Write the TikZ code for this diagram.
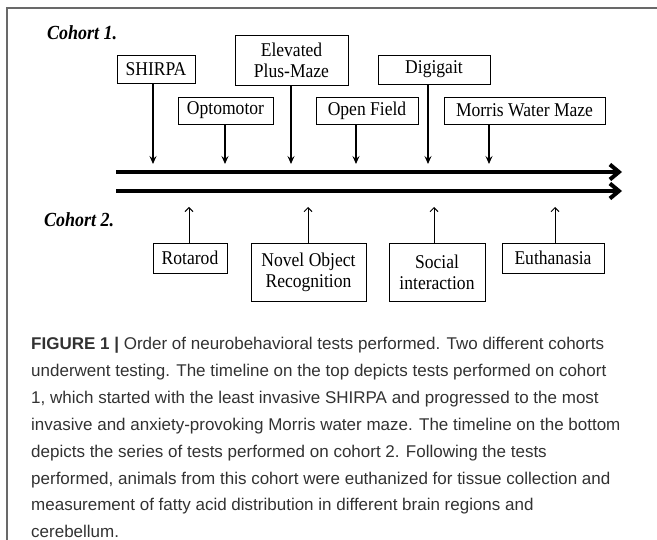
\documentclass[tikz,border=0pt]{standalone}
\usepackage{fontspec}
\setmainfont{Liberation Serif}
\newfontfamily\boxfont[FakeStretch=0.9]{Liberation Serif}
\newfontfamily\capfont{Liberation Sans}
\usetikzlibrary{arrows.meta}
\definecolor{capgray}{RGB}{50,50,50}
\definecolor{framegray}{RGB}{105,105,105}
\tikzset{
    test/.style={draw, line width=0.8pt, align=center, inner sep=0pt, minimum height=28, font=\boxfont\fontsize{19.5}{21}\selectfont}, % boxes of the tests
    cohort/.style={anchor=west, inner sep=0pt, font=\boxfont\fontsize{20}{22}\selectfont\bfseries\itshape},
    down/.style={line width=1.2pt, -{Stealth[length=8pt, width=7pt, inset=3pt]}},
    up/.style={line width=1pt, -{Straight Barb[length=4pt, width=8pt]}},
    timeline/.style={line width=4pt, -{Straight Barb[length=9pt, width=15pt]}}
}

\begin{document}
\begin{tikzpicture}[x=1pt, y=-1pt]
    \useasboundingbox (0,0) rectangle (657,540);
    \draw[framegray, line width=1.5pt] (657,8) -- (7,8) -- (7,540);

    \node[cohort] (coh1) at (47,33) {Cohort 1.};
    \node[cohort] (coh2) at (44,220) {Cohort 2.};

    % the two timelines
    \coordinate (start1) at (116,172); \coordinate (end1) at (622,172);
    \coordinate (start2) at (116,191); \coordinate (end2) at (622,191);
    \draw[timeline] (start1) -- (end1);
    \draw[timeline] (start2) -- (end2);

    % cohort 1
    \node[test, minimum width=78] (shirpa) at (156,69) {SHIRPA};
    \node[test, minimum width=95, minimum height=27] (opto) at (225.5,110.5) {Optomotor};
    \node[test, minimum width=113, minimum height=50] (epm) at (291.5,60) {Elevated\\Plus-Maze};
    \node[test, minimum width=102, minimum height=27] (field) at (367,110.5) {Open Field};
    \node[test, minimum width=112, minimum height=29] (digi) at (434,69.5) {Digigait};
    \node[test, minimum width=161, minimum height=27] (mwm) at (524.5,110.5) {Morris Water Maze};
    \foreach \n/\x in {shirpa/153, opto/225, epm/291, field/356, digi/428, mwm/489} {
        \coordinate (tip\n) at (\x,164);
        \draw[down] (\n.south -| tip\n) -- (tip\n);
    }

    % cohort 2
    \node[test, minimum width=74, minimum height=30] (rota) at (190,258) {Rotarod};
    \node[test, minimum width=115, minimum height=58] (novel) at (308.5,272) {Novel Object\\Recognition};
    \node[test, minimum width=96, minimum height=58] (social) at (437,272) {Social\\interaction};
    \node[test, minimum width=102, minimum height=30] (euth) at (553,258) {Euthanasia};
    \foreach \n/\x in {rota/189, novel/308, social/434, euth/555} {
        \coordinate (tip\n) at (\x,207);
        \draw[up] (\n.north -| tip\n) -- (tip\n);
    }

    \node[anchor=north west, inner sep=0pt, align=left, text=capgray,
          font=\capfont\fontsize{17}{26.9}\selectfont] (caption) at (31,337)
        {{\bfseries FIGURE 1 |} Order of neurobehavioral tests performed. Two different cohorts\\
         underwent testing. The timeline on the top depicts tests performed on cohort\\
         1, which started with the least invasive SHIRPA and progressed to the most\\
         invasive and anxiety-provoking Morris water maze. The timeline on the bottom\\
         depicts the series of tests performed on cohort 2. Following the tests\\
         performed, animals from this cohort were euthanized for tissue collection and\\
         measurement of fatty acid distribution in different brain regions and\\
         cerebellum.};
\end{tikzpicture}
\end{document}
